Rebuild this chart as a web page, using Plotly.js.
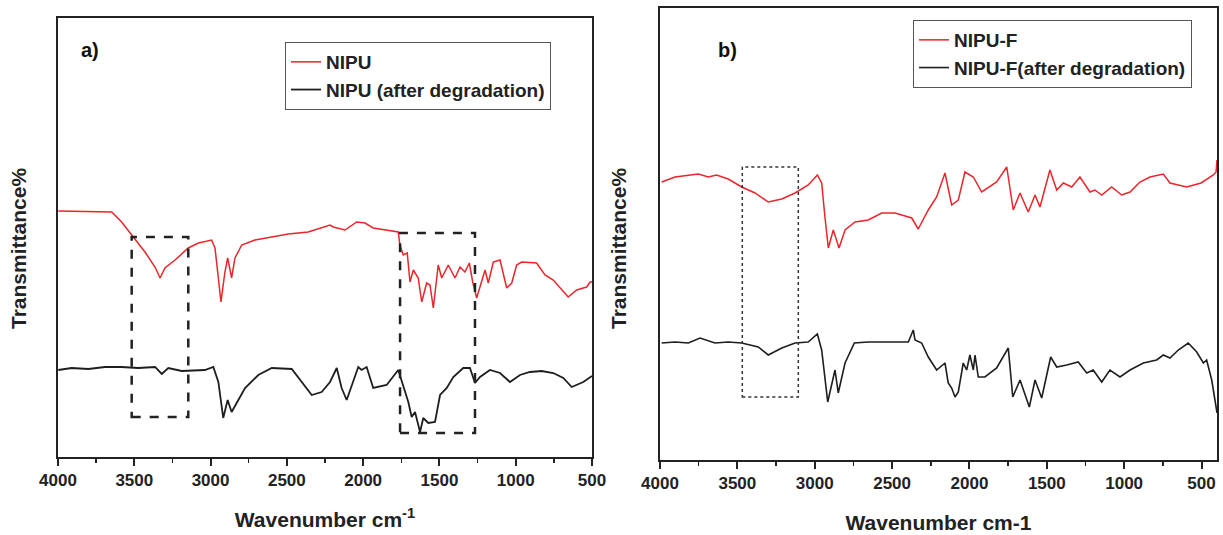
<!DOCTYPE html>
<html>
<head>
<meta charset="utf-8">
<script src="https://cdn.plot.ly/plotly-3.0.1.min.js"></script>
<style>html,body{margin:0;padding:0;background:#fff;}#chart{width:1223px;height:535px;}</style>
</head>
<body>
<div id="chart"></div>
<script>
// ---------- Panel a) NIPU ----------
const wnRedA = [3998,3648,3583,3506,3430,3364,3331,3299,3233,3146,3080,2993,2971,2949,2932,2906,2888,2862,2840,2796,2709,2599,2491,2360,2272,2217,2196,2119,2042,1988,1934,1846,1770,1759,1737,1711,1693,1671,1639,1616,1584,1562,1540,1508,1485,1442,1398,1365,1333,1304,1282,1256,1223,1201,1180,1147,1103,1059,1026,994,961,863,808,754,656,600,535,513,500];
const tRedA  = [246,245,235,220,205,190,179,189,197,209,214,217,209,179,155,185,199,179,199,212,217,220,223,225,229,232,230,227,235,234,229,227,225,212,202,204,175,187,179,155,174,172,149,192,179,192,179,190,185,194,175,159,175,187,174,195,197,169,174,192,195,194,182,177,160,167,170,175,175];

const wnBlackA = [3998,3910,3801,3692,3583,3474,3364,3320,3277,3189,3037,2982,2949,2917,2888,2862,2829,2774,2687,2599,2468,2403,2337,2272,2217,2173,2141,2108,2065,2032,2010,1977,1934,1846,1770,1737,1704,1682,1660,1627,1606,1573,1529,1496,1452,1409,1344,1300,1267,1234,1169,1103,1038,972,907,830,754,688,633,557,513,500];
const tBlackA  = [87,89,88,90,90,89,90,83,89,86,87,90,75,39,57,45,54,69,82,89,88,75,62,65,75,89,69,57,75,90,87,90,69,72,87,72,55,40,45,25,39,34,35,62,69,80,89,89,74,80,87,84,75,82,85,86,84,79,70,75,80,81];

// ---------- Panel b) NIPU-F ----------
const wnRedB = [3989,3903,3752,3688,3634,3559,3472,3386,3300,3213,3127,3042,2983,2955,2934,2912,2880,2843,2804,2740,2654,2567,2481,2373,2331,2266,2212,2158,2115,2072,2029,1975,1921,1824,1759,1717,1673,1620,1576,1544,1480,1436,1393,1339,1286,1221,1189,1145,1081,1016,962,898,833,747,704,596,503,467,424,406,400];
const tRedB  = [278,283,286,283,285,281,273,267,258,261,267,275,285,277,243,212,230,212,230,238,240,247,247,242,231,250,263,287,255,260,288,283,268,278,293,250,267,248,265,253,290,270,277,273,283,268,270,265,273,265,268,278,283,286,277,273,277,281,285,288,300];

const wnBlackB = [3989,3903,3817,3741,3645,3559,3472,3365,3300,3213,3127,3042,2983,2955,2916,2869,2848,2804,2744,2654,2524,2395,2363,2352,2309,2266,2212,2158,2137,2115,2093,2072,2040,2018,1997,1975,1964,1943,1900,1824,1749,1720,1673,1613,1576,1533,1475,1436,1371,1297,1242,1200,1145,1092,1027,962,876,790,747,704,650,586,531,488,467,434,410,400];
const tBlackB  = [117,118,117,122,117,118,117,113,105,112,117,118,126,110,58,90,67,97,117,118,118,118,130,120,117,103,90,97,77,72,63,68,97,90,105,90,105,83,83,92,112,63,80,53,80,62,103,93,95,98,87,90,78,90,83,90,97,100,105,102,110,117,108,97,100,80,57,47];

// series names
const namesA = ["NIPU", "NIPU (after degradation)"];
const namesB = ["NIPU-F", "NIPU-F(after degradation)"];

// highlighted regions: [wavenumber high, wavenumber low, y low, y high]
const boxesA = [[3517, 3146, 40, 220], [1758, 1267, 24, 224]];
const boxesB = [[3468, 3106, 63, 293]];

const FONT = "Liberation Sans, Arial, Helvetica, sans-serif";
const RED = "#e8262b", BLACK = "#1e1e1e";

const traces = [
  {x: wnRedA, y: tRedA, name: namesA[0], type: "scatter", mode: "lines", line: {color: RED, width: 1.5}, xaxis: "x", yaxis: "y", legend: "legend"},
  {x: wnBlackA, y: tBlackA, name: namesA[1], type: "scatter", mode: "lines", line: {color: BLACK, width: 1.8}, xaxis: "x", yaxis: "y", legend: "legend"},
  {x: wnRedB, y: tRedB, name: namesB[0], type: "scatter", mode: "lines", line: {color: RED, width: 1.5}, xaxis: "x2", yaxis: "y2", legend: "legend2"},
  {x: wnBlackB, y: tBlackB, name: namesB[1], type: "scatter", mode: "lines", line: {color: BLACK, width: 1.6}, xaxis: "x2", yaxis: "y2", legend: "legend2"}
];

function xaxisDef(domain, range, title, anchor) {
  return {
    domain: domain, range: range, anchor: anchor,
    showline: true, linecolor: "#222", linewidth: 2, mirror: true,
    showgrid: false, zeroline: false,
    ticks: "outside", ticklen: 7, tickwidth: 2, tickcolor: "#222",
    dtick: 500, tick0: 0,
    minor: {ticks: "outside", dtick: 250, ticklen: 4, tickwidth: 1.5, tickcolor: "#222", showgrid: false},
    tickfont: {family: FONT, size: 17, color: "#222", weight: "bold"},
    title: {text: title, font: {family: FONT, size: 21, color: "#222", weight: "bold"}, standoff: 23},
    automargin: false
  };
}
function yaxisDef(domain, range, anchor) {
  return {
    domain: domain, range: range, anchor: anchor,
    showline: true, linecolor: "#222", linewidth: 2, mirror: true,
    showgrid: false, zeroline: false, ticks: "", showticklabels: false,
    automargin: false
  };
}

const shapes = [];
boxesA.forEach(b => shapes.push({type: "rect", xref: "x", yref: "y", x0: b[0], x1: b[1], y0: b[2], y1: b[3],
  line: {color: "#222", width: 2.5, dash: "dash"}, fillcolor: "rgba(0,0,0,0)"}));
boxesB.forEach(b => shapes.push({type: "rect", xref: "x2", yref: "y2", x0: b[0], x1: b[1], y0: b[2], y1: b[3],
  line: {color: "#333", width: 1.5, dash: "dot"}, fillcolor: "rgba(0,0,0,0)"}));

const legendStyle = {xanchor: "left", yanchor: "top", bgcolor: "#fff",
  bordercolor: "#555", borderwidth: 1, font: {family: FONT, size: 19, color: "#222", weight: "bold"},
  tracegroupgap: 0, itemwidth: 30};

const titleFont = {family: FONT, size: 21, color: "#222", weight: "bold"};

const layout = {
  width: 1223, height: 535,
  margin: {l: 0, r: 0, t: 0, b: 0},
  paper_bgcolor: "#fff", plot_bgcolor: "#fff",
  showlegend: true,
  xaxis: xaxisDef([0.04742, 0.48406], [4000, 500], "Wavenumber cm<sup>-1</sup>", "y"),
  yaxis: yaxisDef([0.14579, 0.96636], [0, 439], "x"),
  xaxis2: xaxisDef([0.53966, 0.99509], [4000, 400], "Wavenumber cm-1", "y2"),
  yaxis2: yaxisDef([0.14019, 0.98505], [0, 452], "x2"),
  legend: Object.assign({x: 285/1223, y: 1 - 42/535}, legendStyle),
  legend2: Object.assign({x: 913/1223, y: 1 - 20/535}, legendStyle),
  shapes: shapes,
  annotations: [
    {text: "a)", xref: "paper", yref: "paper", x: 90/1223, y: 1 - 50/535, xanchor: "center", yanchor: "middle",
     showarrow: false, font: {family: FONT, size: 20, color: "#111", weight: "bold"}},
    {text: "b)", xref: "paper", yref: "paper", x: 727/1223, y: 1 - 50/535, xanchor: "center", yanchor: "middle",
     showarrow: false, font: {family: FONT, size: 20, color: "#111", weight: "bold"}},
    {text: "Transmittance%", xref: "paper", yref: "paper", x: 18/1223, y: 1 - 249/535, xanchor: "center", yanchor: "middle",
     textangle: -90, showarrow: false, font: titleFont},
    {text: "Transmittance%", xref: "paper", yref: "paper", x: 618/1223, y: 1 - 248/535, xanchor: "center", yanchor: "middle",
     textangle: -90, showarrow: false, font: titleFont}
  ]
};

Plotly.newPlot("chart", traces, layout, {staticPlot: true, displayModeBar: false});
</script>
</body>
</html>
